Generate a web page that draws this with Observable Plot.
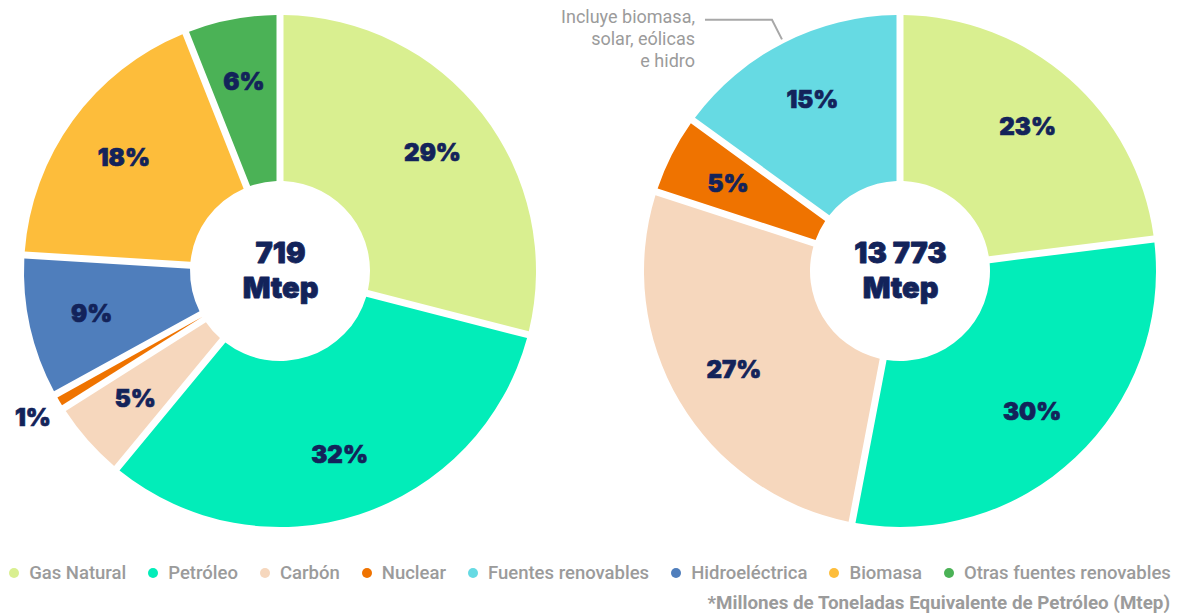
<!DOCTYPE html>
<html>
<head>
<meta charset="utf-8">
<script src="https://cdn.jsdelivr.net/npm/d3@7"></script>
<script src="https://cdn.jsdelivr.net/npm/@observablehq/plot@0.6"></script>
<style>
  html, body { margin: 0; padding: 0; background: #fff; }
  #wrap { width: 1180px; }
  .legend { display: flex; justify-content: center; align-items: center; height: 36px;
    font-family: Roboto, "Noto Sans", sans-serif; font-weight: 500; font-size: 18.5px; color: #9b9b9b; }
  .legend .item { display: flex; align-items: center; margin: 0 0 0 22px; white-space: nowrap; }
  .legend .item:first-child { margin-left: 0; }
  .legend .sw { width: 10px; height: 10px; border-radius: 50%; margin: 0 10px 0 0; }
  .foot { text-align: right; padding-right: 10px; height: 24px; line-height: 24px;
    font-family: Roboto, "Noto Sans", sans-serif; font-weight: 700; font-size: 18.8px; color: #9b9b9b; }
</style>
</head>
<body>
<div id="wrap"></div>
<script>
// ---- data ----
const categories = ["Gas Natural", "Petróleo", "Carbón", "Nuclear", "Fuentes renovables", "Hidroeléctrica", "Biomasa", "Otras fuentes renovables"];
const categoryColors = ["#d9ef90", "#02edb9", "#f6d7bd", "#ef7300", "#66dae3", "#4f7ebc", "#fdbd3b", "#4bb256"];
const charts = ["izquierda", "derecha"];
const totals = ["719", "13 773"];
const totalUnit = "Mtep";
const leftCategories = ["Gas Natural", "Petróleo", "Carbón", "Nuclear", "Hidroeléctrica", "Biomasa", "Otras fuentes renovables"];
const leftValues = [29, 32, 5, 1, 9, 18, 6];
const rightCategories = ["Gas Natural", "Petróleo", "Carbón", "Nuclear", "Fuentes renovables"];
const rightValues = [23, 30, 27, 5, 15];
const annotationCategory = "Fuentes renovables";
const annotationLines = ["Incluye biomasa,", "solar, eólicas", "e hidro"];
const footnote = "*Millones de Toneladas Equivalente de Petróleo (Mtep)";

const seriesByChart = [
  leftCategories.map((c, i) => ({chart: charts[0], category: c, value: leftValues[i]})),
  rightCategories.map((c, i) => ({chart: charts[1], category: c, value: rightValues[i]}))
];
const centers = charts.map((c, i) => ({chart: c, total: totals[i]}));

const W = 1180, H = 555, CY = 271;
const R_OUT = 256, R_IN = 90, R_LABEL = 193, R_LABEL_OUT = 287;
const navy = "#13235a";
const grey = "#9b9b9b";
const heavyFont = "Inter, Roboto, sans-serif";

const color = {domain: categories, range: categoryColors};

function donuts(index, scales, values, dimensions) {
  const g = d3.create("svg:g");
  const xs = scales.x;
  const col = scales.color;
  const arc = d3.arc().innerRadius(R_IN).outerRadius(R_OUT).padAngle(0.07).padRadius(100);
  const pie = d3.pie().sort(null).value(d => d.value);
  seriesByChart.forEach(series => {
    const cx = xs(series[0].chart);
    const gg = g.append("g").attr("transform", `translate(${cx},${CY})`);
    const arcs = pie(series);
    gg.selectAll("path").data(arcs).join("path")
      .attr("d", arc)
      .attr("fill", d => col(d.data.category));
    arcs.forEach(a => {
      const mid = (a.startAngle + a.endAngle) / 2;
      const small = a.data.value < 3;
      const r = small ? R_LABEL_OUT : R_LABEL;
      gg.append("text")
        .attr("x", r * Math.sin(mid))
        .attr("y", -r * Math.cos(mid))
        .attr("text-anchor", "middle")
        .attr("dominant-baseline", "central")
        .attr("font-family", heavyFont)
        .attr("font-weight", 900)
        .attr("font-size", 24)
        .attr("fill", navy)
        .attr("stroke", navy)
        .attr("stroke-width", 0.7)
        .text(a.data.value + "%");
      if (a.data.category === annotationCategory) {
        const p0 = [(R_OUT + 4) * Math.sin(mid), -(R_OUT + 4) * Math.cos(mid)];
        const p1 = [(R_OUT + 26) * Math.sin(mid), -(R_OUT + 26) * Math.cos(mid)];
        const p2 = [p1[0] - 67, p1[1]];
        gg.append("path")
          .attr("d", `M${p0[0]},${p0[1]}L${p1[0]},${p1[1]}L${p2[0]},${p2[1]}`)
          .attr("fill", "none")
          .attr("stroke", "#a8a8a8")
          .attr("stroke-width", 2);
        annotationLines.forEach((t, j) => {
          gg.append("text")
            .attr("x", p2[0] - 10)
            .attr("y", p2[1] - 3 + j * 22)
            .attr("text-anchor", "end")
            .attr("dominant-baseline", "central")
            .attr("font-family", "Roboto, sans-serif")
            .attr("font-size", 18)
            .attr("fill", grey)
            .text(t);
        });
      }
    });
  });
  return g.node();
}

const centerText = {x: "chart", y: () => CY, fontSize: 29, fontWeight: 900, fontFamily: heavyFont, fill: navy, stroke: navy, strokeWidth: 0.8};

const plot = Plot.plot({
  width: W,
  height: H,
  margin: 0,
  x: {type: "point", domain: charts, range: [280, 900], padding: 0, axis: null},
  y: {domain: [0, H], range: [0, H], axis: null},
  color,
  marks: [
    Plot.dot(centers, {x: "chart", y: () => CY, r: R_IN, fill: "white", stroke: null}),
    donuts,
    Plot.text(centers, {...centerText, text: "total", dy: -18}),
    Plot.text(centers, {...centerText, text: () => totalUnit, dy: 17})
  ]
});

const wrap = document.getElementById("wrap");
wrap.appendChild(plot);

const legend = document.createElement("div");
legend.className = "legend";
categories.forEach((c, i) => {
  const it = document.createElement("div");
  it.className = "item";
  const sw = document.createElement("span");
  sw.className = "sw";
  sw.style.background = categoryColors[i];
  const tx = document.createElement("span");
  tx.textContent = c;
  it.appendChild(sw); it.appendChild(tx);
  legend.appendChild(it);
});
wrap.appendChild(legend);

const foot = document.createElement("div");
foot.className = "foot";
foot.textContent = footnote;
wrap.appendChild(foot);
</script>
</body>
</html>
